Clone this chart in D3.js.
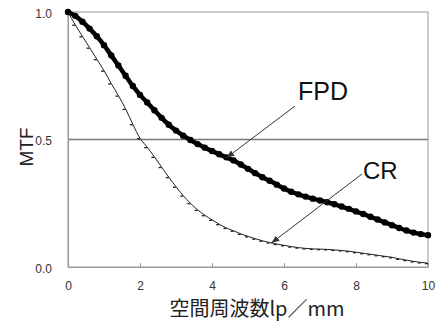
<!DOCTYPE html>
<html>
  <head>
    <meta charset="utf-8">
    <title>MTF FPD vs CR</title>
    <script src="https://cdn.jsdelivr.net/npm/d3@7/dist/d3.min.js"></script>
    <style>
      body { margin: 0; background: #fff; }
      svg { display: block; }
      text { font-family: "Liberation Sans", Arial, sans-serif; }
    </style>
  </head>
  <body>
    <div id="chart"></div>
    <script>
      // spatial frequency (lp/mm), one reading every 0.2
      var freq = d3.range(0, 51).map(function (i) { return i / 5; });

      // MTF
      var fpd = [1.000, 0.985, 0.962, 0.935, 0.905, 0.870, 0.830, 0.790, 0.750, 0.710,
                 0.675, 0.645, 0.615, 0.585, 0.558, 0.535, 0.515, 0.498, 0.482, 0.468,
                 0.455, 0.442, 0.430, 0.418, 0.402, 0.385, 0.368, 0.352, 0.338, 0.323,
                 0.308, 0.295, 0.285, 0.276, 0.268, 0.261, 0.254, 0.246, 0.237, 0.228,
                 0.218, 0.208, 0.197, 0.186, 0.175, 0.164, 0.153, 0.143, 0.135, 0.129,
                 0.125];
      var cr  = [1.000, 0.950, 0.905, 0.860, 0.815, 0.770, 0.720, 0.672, 0.620, 0.560,
                 0.505, 0.470, 0.432, 0.392, 0.352, 0.315, 0.280, 0.250, 0.224, 0.203,
                 0.185, 0.168, 0.153, 0.142, 0.130, 0.120, 0.111, 0.103, 0.096, 0.090,
                 0.085, 0.080, 0.076, 0.073, 0.071, 0.070, 0.069, 0.067, 0.065, 0.062,
                 0.058, 0.054, 0.050, 0.046, 0.042, 0.038, 0.032, 0.027, 0.022, 0.018,
                 0.015];

      var xTicks = [0, 2, 4, 6, 8, 10];
      var yTicks = [0, 0.5, 1];
      var xTitle = "空間周波数lp／mm";
      var yTitle = "MTF";

      var width = 440, height = 323;
      var margin = { top: 12, right: 12, bottom: 56, left: 68 };

      var x = d3.scaleLinear().domain([0, 10]).range([margin.left, width - margin.right]);
      var y = d3.scaleLinear().domain([0, 1]).range([height - margin.bottom, margin.top]);

      var svg = d3.select("#chart")
        .append("svg")
        .attr("width", width)
        .attr("height", height);

      svg.append("defs")
        .append("marker")
          .attr("id", "arrow")
          .attr("viewBox", "0 0 10 10")
          .attr("refX", 10)
          .attr("refY", 5)
          .attr("markerWidth", 8)
          .attr("markerHeight", 8)
          .attr("markerUnits", "userSpaceOnUse")
          .attr("orient", "auto")
        .append("path")
          .attr("d", "M0,1 L10,5 L0,9 Z")
          .attr("fill", "#333");

      // frame: light grey box
      svg.append("rect")
        .attr("x", x(0))
        .attr("y", y(1))
        .attr("width", x(10) - x(0))
        .attr("height", y(0) - y(1))
        .attr("fill", "none")
        .attr("stroke", "#aaa")
        .attr("stroke-width", 1.2);

      // 0.5 reference line
      svg.append("line")
        .attr("x1", x(0)).attr("x2", x(10))
        .attr("y1", y(0.5)).attr("y2", y(0.5))
        .attr("stroke", "#777")
        .attr("stroke-width", 1.3);

      // x axis, ticks pointing inside
      var xAxis = svg.append("g")
        .attr("transform", "translate(0," + y(0) + ")")
        .call(d3.axisBottom(x).tickValues(xTicks).tickSize(-4).tickPadding(14).tickFormat(d3.format("d")));
      xAxis.select(".domain").attr("stroke", "#999");
      xAxis.selectAll(".tick line").attr("stroke", "#999");
      xAxis.selectAll("text").attr("font-size", 12).attr("fill", "#333")
        .attr("font-family", "'Liberation Sans', Arial, sans-serif");

      var yAxis = svg.append("g")
        .attr("transform", "translate(" + x(0) + ",0)")
        .call(d3.axisLeft(y).tickValues(yTicks).tickSize(0).tickPadding(16).tickFormat(d3.format(".1f")));
      yAxis.select(".domain").attr("stroke", "#999");
      yAxis.selectAll("text").attr("font-size", 12).attr("fill", "#333")
        .attr("font-family", "'Liberation Sans', Arial, sans-serif")
        .attr("dy", "0.45em");

      // axis titles
      svg.append("text")
        .attr("x", 257)
        .attr("y", 316)
        .attr("text-anchor", "middle")
        .attr("font-size", 20)
        .attr("fill", "#222")
        .style("font-family", "'Noto Sans CJK JP', sans-serif")
        .text(xTitle);

      svg.append("text")
        .attr("transform", "translate(33," + 147 + ") rotate(-90)")
        .attr("text-anchor", "middle")
        .attr("font-size", 19)
        .attr("fill", "#222")
        .text(yTitle);

      var line = d3.line()
        .x(function (d) { return x(d[0]); })
        .y(function (d) { return y(d[1]); })
        .curve(d3.curveMonotoneX);

      var fpdData = freq.map(function (f, i) { return [f, fpd[i]]; });
      var crData = freq.map(function (f, i) { return [f, cr[i]]; });

      // CR: thin line with small dash markers
      svg.append("path")
        .datum(crData)
        .attr("d", line)
        .attr("fill", "none")
        .attr("stroke", "#222")
        .attr("stroke-width", 1);

      svg.append("g")
        .selectAll("line")
        .data(crData)
        .enter()
        .append("line")
          .attr("x1", function (d) { return x(d[0]) - 3; })
          .attr("x2", function (d) { return x(d[0]); })
          .attr("y1", function (d) { return y(d[1]) + 0.5; })
          .attr("y2", function (d) { return y(d[1]) + 0.5; })
          .attr("stroke", "#222")
          .attr("stroke-width", 1.3);

      // FPD: thick line of dots
      svg.append("path")
        .datum(fpdData)
        .attr("d", line)
        .attr("fill", "none")
        .attr("stroke", "#000")
        .attr("stroke-width", 4.5);

      svg.append("g")
        .selectAll("circle")
        .data(fpdData)
        .enter()
        .append("circle")
          .attr("cx", function (d) { return x(d[0]); })
          .attr("cy", function (d) { return y(d[1]); })
          .attr("r", 3.2)
          .attr("fill", "#000");

      // labels with arrows
      svg.append("line")
        .attr("x1", 295).attr("y1", 106)
        .attr("x2", x(4.4)).attr("y2", y(0.428))
        .attr("stroke", "#333")
        .attr("stroke-width", 1)
        .attr("marker-end", "url(#arrow)");

      svg.append("text")
        .attr("x", 298)
        .attr("y", 100)
        .attr("font-size", 25)
        .attr("fill", "#111")
        .text("FPD");

      svg.append("line")
        .attr("x1", 362).attr("y1", 174)
        .attr("x2", x(5.65)).attr("y2", y(0.094))
        .attr("stroke", "#333")
        .attr("stroke-width", 1)
        .attr("marker-end", "url(#arrow)");

      svg.append("text")
        .attr("x", 363)
        .attr("y", 179)
        .attr("font-size", 24)
        .attr("fill", "#111")
        .text("CR");
    </script>
  </body>
</html>
